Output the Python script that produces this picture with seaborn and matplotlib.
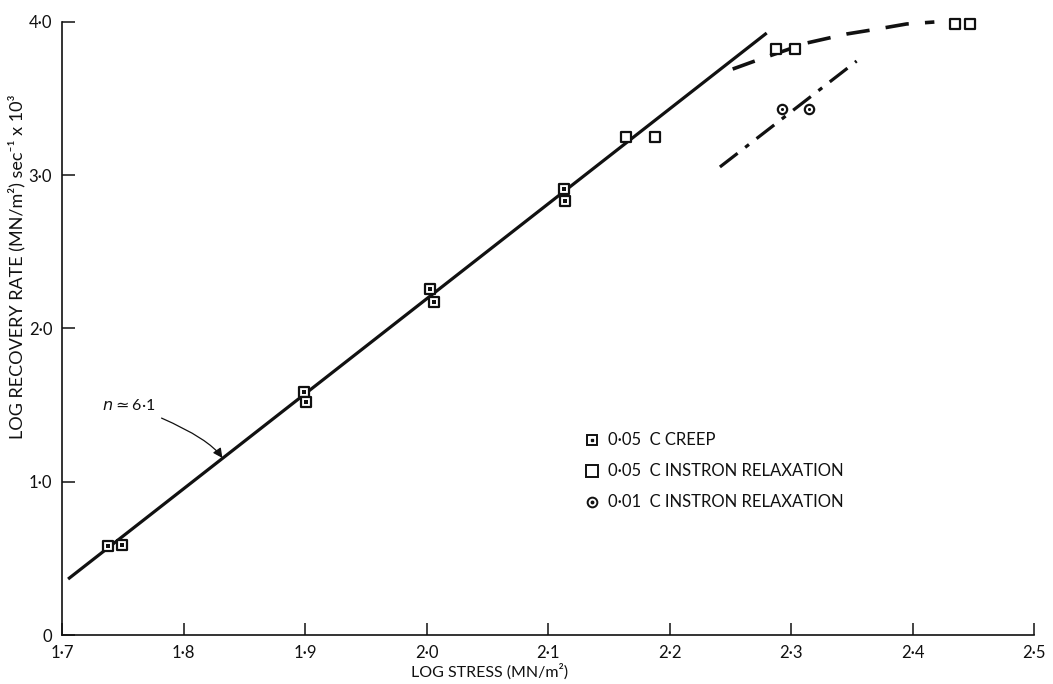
import matplotlib
matplotlib.use("Agg")
import matplotlib.pyplot as plt
from matplotlib.lines import Line2D
import seaborn as sns

# 0.05 C creep tests (log stress, log recovery rate)
creep_x = [1.738, 1.749, 1.899, 1.901, 2.003, 2.006, 2.113, 2.114]
creep_y = [0.580, 0.587, 1.586, 1.520, 2.258, 2.173, 2.910, 2.832]

# 0.05 C Instron relaxation
inst05_x = [2.164, 2.188, 2.288, 2.303, 2.435, 2.447]
inst05_y = [3.250, 3.250, 3.824, 3.824, 3.990, 3.990]

# 0.01 C Instron relaxation
inst01_x = [2.293, 2.315]
inst01_y = [3.430, 3.430]

# Fitted power-law line (n ~ 6.1)
fit_x = [1.705, 2.280]
fit_y = [0.365, 3.928]

# Curve through the 0.05 C relaxation data
curve05_x = [2.252, 2.268, 2.290, 2.313, 2.346, 2.371, 2.395, 2.418]
curve05_y = [3.693, 3.739, 3.800, 3.863, 3.922, 3.954, 3.987, 4.000]

# Line through the 0.01 C relaxation data
line01_x = [2.2415, 2.354]
line01_y = [3.054, 3.745]

xticks = [1.7, 1.8, 1.9, 2.0, 2.1, 2.2, 2.3, 2.4, 2.5]
xtick_labels = ["1·7", "1·8", "1·9", "2·0", "2·1", "2·2", "2·3", "2·4", "2·5"]
yticks = [0, 1, 2, 3, 4]
ytick_labels = ["0", "1·0", "2·0", "3·0", "4·0"]

legend_labels = ["0·05  C CREEP",
                 "0·05  C INSTRON RELAXATION",
                 "0·01  C INSTRON RELAXATION"]

sns.set_theme(style="ticks")
plt.rcParams["font.family"] = ["Lato", "DejaVu Sans"]
plt.rcParams["mathtext.fontset"] = "dejavusans"
plt.rcParams["text.color"] = "#111111"

fig = plt.figure(figsize=(10.53, 6.84), dpi=100)
ax = fig.add_axes([62 / 1053, 1 - 635 / 684, 972 / 1053, 613 / 684])

ink = "#111111"

sns.lineplot(x=fit_x, y=fit_y, ax=ax, color=ink, linewidth=2.3,
             solid_capstyle="butt", zorder=2)
sns.lineplot(x=curve05_x, y=curve05_y, ax=ax, color=ink, linewidth=2.6,
             linestyle=(0, (6.5, 4.5)), clip_on=False, zorder=2)
sns.lineplot(x=line01_x, y=line01_y, ax=ax, color=ink, linewidth=2.3,
             linestyle=(0, (7, 3, 1.5, 3)), zorder=2)

# Markers
sq = dict(marker="s", facecolor="white", edgecolor=ink, linewidth=1.6,
          clip_on=False, zorder=4, legend=False)
sns.scatterplot(x=creep_x, y=creep_y, ax=ax, s=50, **sq)
sns.scatterplot(x=creep_x, y=creep_y, ax=ax, s=5, marker="s", color=ink,
                linewidth=0, zorder=5, legend=False)
sns.scatterplot(x=inst05_x, y=inst05_y, ax=ax, s=55, **sq)
sns.scatterplot(x=inst01_x, y=inst01_y, ax=ax, s=45, marker="o",
                facecolor="white", edgecolor=ink, linewidth=1.6,
                zorder=4, legend=False)
sns.scatterplot(x=inst01_x, y=inst01_y, ax=ax, s=5, marker="o", color=ink,
                linewidth=0, zorder=5, legend=False)

ax.set_xlim(1.7, 2.5)
ax.set_ylim(0, 4.0)
ax.set_xticks(xticks)
ax.set_xticklabels(xtick_labels)
ax.set_yticks(yticks)
ax.set_yticklabels(ytick_labels)
ax.tick_params(direction="in", length=9, width=1.1, color=ink,
               labelcolor=ink, labelsize=12, pad=7)
for side in ["top", "right"]:
    ax.spines[side].set_visible(False)
for side in ["left", "bottom"]:
    ax.spines[side].set_linewidth(1.2)
    ax.spines[side].set_color(ink)

ax.set_xlabel("LOG STRESS (MN/m²)", fontsize=11.5, color=ink)
ax.xaxis.set_label_coords(0.44, -0.046)
ax.set_ylabel("LOG RECOVERY RATE (MN/m²) sec⁻¹ x 10³", fontsize=13,
              color=ink)
ax.yaxis.set_label_coords(-0.038, 0.60)

# Slope annotation
ax.annotate("$n\\simeq$6·1", xy=(1.832, 1.155), xytext=(1.755, 1.50),
            fontsize=11.5, color=ink, ha="center", va="center",
            arrowprops=dict(arrowstyle="-|>", color=ink, lw=0.9,
                            mutation_scale=14,
                            shrinkA=4, shrinkB=0,
                            connectionstyle="angle3,angleA=-20,angleB=-55"))

# Legend
dot_sq = Line2D([], [], linestyle="none", marker="s", markersize=7,
                markerfacecolor="white", markeredgecolor=ink,
                markeredgewidth=1.4)
plain_sq = Line2D([], [], linestyle="none", marker="s", markersize=8,
                  markerfacecolor="white", markeredgecolor=ink,
                  markeredgewidth=1.4)
dot_circ = Line2D([], [], linestyle="none", marker="o", markersize=7,
                  markerfacecolor="white", markeredgecolor=ink,
                  markeredgewidth=1.4)
inner_sq = Line2D([], [], linestyle="none", marker="s", markersize=1.8,
                  color=ink)
inner_circ = Line2D([], [], linestyle="none", marker="o", markersize=1.8,
                    color=ink)
leg = ax.legend([(dot_sq, inner_sq), plain_sq, (dot_circ, inner_circ)],
                legend_labels, loc="upper left",
                bbox_to_anchor=(0.522, 0.355), frameon=False,
                fontsize=12, labelspacing=0.9, handlelength=0.9,
                handletextpad=0.5, labelcolor=ink)

fig.savefig("out.png", dpi=100)
